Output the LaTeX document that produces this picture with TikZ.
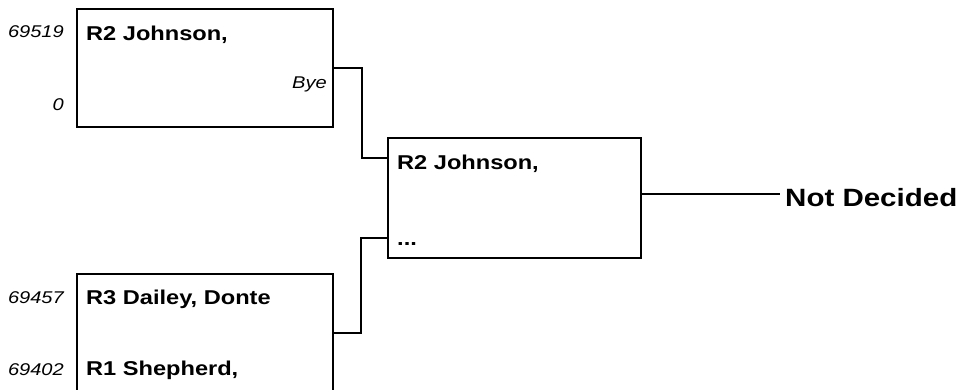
\documentclass[tikz,border=0pt]{standalone}
\usepackage{fontspec}
\setmainfont{Liberation Sans}[FakeStretch=1.18]
\begin{document}
\begin{tikzpicture}[x=1pt,y=-1pt,
    slot/.style={draw, line width=1.8pt, minimum width=256pt, minimum height=118pt, inner sep=0pt, anchor=north west},
    entrant/.style={anchor=base west, inner sep=0pt, font=\fontsize{20}{24}\selectfont\bfseries},
    seednum/.style={anchor=base east, inner sep=0pt, font=\fontsize{17}{20}\selectfont\itshape},
    link/.style={line width=1.8pt}]
    \useasboundingbox (0,0) rectangle (956,389);
    \clip (0,0) rectangle (956,389);
    \node[slot] (top) at (76,8) {};
    \node[slot, minimum width=253pt, minimum height=120pt] (mid) at (387,137) {};
    \node[slot] (bot) at (76,273) {};
    \node[seednum] (s1) at (64,37) {69519};
    \node[entrant] (p1) at (86,40) {R2 Johnson,};
    \node[seednum] (bye) at (327,88) {Bye};
    \node[seednum] (s2) at (64,110) {0};
    \node[entrant] (w1) at (397,169) {R2 Johnson,};
    \node[entrant] (w2) at (397,245) {...};
    \node[seednum] (s3) at (64,303) {69457};
    \node[entrant] (p3) at (86,304) {R3 Dailey, Donte};
    \node[seednum] (s4) at (64,375) {69402};
    \node[entrant] (p4) at (86,375) {R1 Shepherd,};
    \node[anchor=base west, inner sep=0pt, font=\fontsize{25}{30}\selectfont\bfseries] (res) at (785,206) {Not Decided};
    \coordinate (upin) at (387,158);
    \coordinate (lowin) at (387,238);
    \coordinate (resin) at (780,194);
    \draw[link] (top.east) -- ++(28,0) |- (upin);
    \draw[link] (bot.east) -- ++(27,0) |- (lowin);
    \draw[link] (resin -| mid.east) -- (resin);
\end{tikzpicture}
\end{document}
